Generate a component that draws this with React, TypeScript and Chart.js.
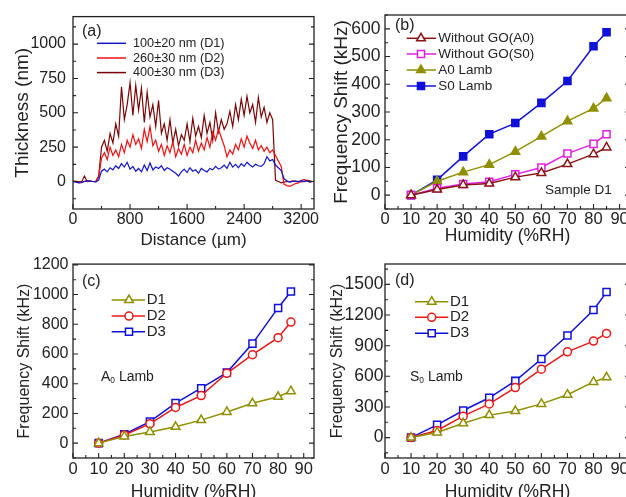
import React, { useEffect, useRef } from 'react';
import { Chart, registerables } from 'chart.js';
import { drawPoint } from 'chart.js/helpers';

Chart.register(...registerables);

const FONT = "'Liberation Sans', Arial, Helvetica, sans-serif";
const INK = '#222';

// ---------- Panel (a): thickness profiles ----------
const DISTANCE = [
  0, 40, 80, 120, 160, 200, 240, 280, 320, 360,
  400, 440, 480, 520, 560, 600, 640, 680, 720, 760,
  800, 840, 880, 920, 960, 1000, 1040, 1080, 1120, 1160,
  1200, 1240, 1280, 1320, 1360, 1400, 1440, 1480, 1520, 1560,
  1600, 1640, 1680, 1720, 1760, 1800, 1840, 1880, 1920, 1960,
  2000, 2040, 2080, 2120, 2160, 2200, 2240, 2280, 2320, 2360,
  2400, 2440, 2480, 2520, 2560, 2600, 2640, 2680, 2720, 2760,
  2800, 2840, 2880, 2920, 2960, 3000, 3040, 3080, 3120, 3160,
  3200, 3240, 3280, 3320, 3360,
];
const THICK_D1 = [
  0, -5, -10, -8, 2, 5, 3, 0, -2, 10,
  75, 90, 70, 100, 85, 115, 95, 130, 105, 140,
  90, 110, 75, 95, 70, 120, 80, 135, 85, 105,
  95, 115, 80, 100, 90, 75, 60, 40, 70, 90,
  65, 100, 75, 85, 60, 95, 80, 70, 95, 85,
  110, 90, 100, 120, 95, 140, 105, 125, 100, 130,
  110, 140, 120, 105, 125, 115, 110, 130, 180, 150,
  160, 120, 100, 80, 20, 5, -5, 0, 5, -3,
  8, 0, 5, -2, 0,
];
const THICK_D2 = [
  5, 0, -8, -5, 0, 5, 2, 0, -3, 30,
  170, 210, 160, 250, 190, 230, 180, 270, 210, 300,
  250, 340, 270, 310, 240, 380, 290, 400, 260, 300,
  220, 270, 190, 260, 210, 290, 180, 240, 200, 270,
  190, 250, 210, 300, 220, 280, 230, 320, 250, 360,
  300, 380, 320, 260, 180, 230, 200, 270, 230, 310,
  250, 330, 280, 240, 300, 230, 260, 220, 250, 210,
  230, 190, 150, 110, -20, -30, -35, -25, -15, -10,
  5, 15, 5, -5, 0,
];
const THICK_D3 = [
  0, 2, 0, -3, 40, 0, 3, 0, 2, 40,
  250, 300, 220, 350, 280, 420, 330, 690, 450, 560,
  720, 480, 700, 520, 680, 430, 650, 470, 560, 400,
  590, 350, 420, 300, 450, 280, 380, 260, 340, 300,
  420, 290, 460, 330, 400, 320, 480, 350, 430, 300,
  500, 360, 450, 380, 420, 510, 400, 560, 450, 600,
  480, 620, 500, 560, 430, 610, 470, 540, 430, 500,
  450, 10, 0, -10, -5, 0, -3, 5, 0, 2,
  -2, 0, 10, 5, 0,
];
const A_X_TICKS = [0, 800, 1600, 2400, 3200];
const A_Y_TICKS = [0, 250, 500, 750, 1000];
const A_LABELS = ['100±20 nm (D1)', '260±30 nm (D2)', '400±30 nm (D3)'];

// ---------- Panels (b)-(d): frequency shift vs humidity ----------
const HUMIDITY = [10, 20, 30, 40, 50, 60, 70, 80, 85];
const HUM_TICKS = [0, 10, 20, 30, 40, 50, 60, 70, 80, 90];

const B_NOGO_A0 = [0, 20, 37, 42, 65, 80, 112, 148, 172];
const B_NOGO_S0 = [0, 25, 40, 48, 75, 100, 150, 185, 220];
const B_A0_LAMB = [0, 50, 83, 110, 157, 212, 267, 313, 350];
const B_S0_LAMB = [0, 55, 140, 220, 260, 333, 412, 537, 588];
const B_Y_TICKS = [0, 100, 200, 300, 400, 500, 600];
const B_LABELS = ['Without GO(A0)', 'Without GO(S0)', 'A0 Lamb', 'S0 Lamb'];

const C_D1 = [0, 45, 75, 110, 155, 210, 268, 312, 350];
const C_D2 = [0, 55, 130, 240, 320, 470, 595, 710, 815];
const C_D3 = [0, 60, 145, 270, 370, 475, 670, 910, 1020];
const C_Y_TICKS = [0, 200, 400, 600, 800, 1000, 1200];

const D_D1 = [0, 50, 140, 220, 260, 330, 420, 545, 590];
const D_D2 = [0, 70, 210, 330, 490, 670, 840, 945, 1020];
const D_D3 = [0, 125, 265, 390, 555, 770, 1000, 1250, 1425];
const D_Y_TICKS = [0, 300, 600, 900, 1200, 1500];

const D_LABELS = ['D1', 'D2', 'D3'];

type Mk = { style: any; radius: number; filled: boolean; color: string };
type LegendSpec = {
  x1: number; x2: number; mx: number; tx: number; rows: number[]; size: number;
  items: { label: string; color: string; mk?: Mk }[];
};
type TextSpec = { text: string; sub?: string; rest?: string; dx: number; dy: number; size: number };

type Spec = {
  cx: number; cy: number; cw: number; ch: number;
  l: number; t: number; r: number; b: number;
  xMin: number; xMax: number; xTicks: number[]; xMinor: number;
  yMin: number; yMax: number; yTicks: number[]; yMinor: number;
  datasets: any[];
  xTitle: string; yTitle: string; xTitleSize: number; yTitleSize: number;
  xTickSize: number; yTickSize: number; yTitleCenter: number; xTitleCenter: number;
  yTickPad: number; xTickPad: number;
  legend: LegendSpec; texts: TextSpec[];
};

function lineSet(xs: number[], ys: number[], color: string, mk?: Mk, width = 1.5) {
  return {
    data: xs.map((x, i) => ({ x, y: ys[i] })),
    borderColor: color,
    backgroundColor: mk ? (mk.filled ? color : '#ffffff') : color,
    borderWidth: width,
    pointStyle: mk ? mk.style : false,
    pointRadius: mk ? mk.radius : 0,
    pointBorderWidth: 1.5,
    pointBorderColor: color,
    pointBackgroundColor: mk ? (mk.filled ? color : '#ffffff') : color,
    tension: 0,
    fill: false,
  };
}

const decor = {
  id: 'decor',
  afterDraw(chart: any, _a: any, opts: any) {
    const spec: Spec = opts.spec;
    const { ctx, chartArea } = chart;
    const { left, right, top, bottom } = chartArea;
    const xs = chart.scales.x;
    const ys = chart.scales.y;
    ctx.save();
    ctx.strokeStyle = INK;
    ctx.lineWidth = 1.3;
    ctx.strokeRect(left, top, right - left, bottom - top);
    ctx.lineWidth = 1.1;
    ctx.beginPath();
    const start = (min: number, step: number) => Math.ceil(min / step) * step;
    for (let v = start(spec.xMin, spec.xMinor); v <= spec.xMax + 1e-9; v += spec.xMinor) {
      const major = spec.xTicks.some((m) => Math.abs(m - v) < 1e-6);
      const p = xs.getPixelForValue(v);
      const len = major ? 5 : 3;
      ctx.moveTo(p, bottom);
      ctx.lineTo(p, bottom - len);
    }
    for (let v = start(spec.yMin, spec.yMinor); v <= spec.yMax + 1e-9; v += spec.yMinor) {
      const major = spec.yTicks.some((m) => Math.abs(m - v) < 1e-6);
      const p = ys.getPixelForValue(v);
      const len = major ? 5 : 3;
      ctx.moveTo(left, p);
      ctx.lineTo(left + len, p);
      ctx.moveTo(right, p);
      ctx.lineTo(right - len, p);
    }
    ctx.stroke();

    // legend
    const lg = spec.legend;
    lg.items.forEach((it, i) => {
      const y = top + lg.rows[i];
      ctx.strokeStyle = it.color;
      ctx.lineWidth = 1.5;
      ctx.beginPath();
      ctx.moveTo(left + lg.x1, y);
      ctx.lineTo(left + lg.x2, y);
      ctx.stroke();
      if (it.mk) {
        ctx.fillStyle = it.mk.filled ? it.color : '#ffffff';
        ctx.strokeStyle = it.color;
        ctx.lineWidth = 1.5;
        drawPoint(ctx, { pointStyle: it.mk.style, radius: it.mk.radius, rotation: 0, borderWidth: 1.5 } as any, left + lg.mx, y);
      }
      ctx.fillStyle = INK;
      ctx.font = `${lg.size}px ${FONT}`;
      ctx.textBaseline = 'middle';
      ctx.textAlign = 'left';
      ctx.fillText(it.label, left + lg.tx, y);
    });

    // free texts
    spec.texts.forEach((t) => {
      ctx.fillStyle = INK;
      ctx.textBaseline = 'middle';
      ctx.textAlign = 'left';
      ctx.font = `${t.size}px ${FONT}`;
      let x = left + t.dx;
      const y = top + t.dy;
      ctx.fillText(t.text, x, y);
      x += ctx.measureText(t.text).width;
      if (t.sub) {
        ctx.font = `${t.size * 0.6}px ${FONT}`;
        ctx.fillText(t.sub, x, y + t.size * 0.3);
        x += ctx.measureText(t.sub).width;
        ctx.font = `${t.size}px ${FONT}`;
      }
      if (t.rest) ctx.fillText(t.rest, x, y);
    });
    ctx.restore();
  },
};

function Panel({ spec }: { spec: Spec }) {
  const ref = useRef<HTMLCanvasElement>(null);
  useEffect(() => {
    if (!ref.current) return;
    const axisW = spec.l - spec.cx;
    const axisH = spec.ch - (spec.b - spec.cy);
    const yTitlePadTop = spec.yTitleCenter - spec.cx - spec.yTitleSize * 0.6;
    const xTitlePadBottom = spec.ch - (spec.xTitleCenter - spec.cy) - spec.xTitleSize * 0.6;
    const chart = new Chart(ref.current, {
      type: 'line',
      data: { datasets: spec.datasets },
      options: {
        responsive: false,
        animation: false,
        layout: { padding: { top: spec.t - spec.cy, right: spec.cw - (spec.r - spec.cx), left: 0, bottom: 0 } },
        plugins: { legend: { display: false }, tooltip: { enabled: false }, decor: { spec } } as any,
        scales: {
          x: {
            type: 'linear',
            min: spec.xMin,
            max: spec.xMax,
            afterBuildTicks: (s: any) => { s.ticks = spec.xTicks.map((v) => ({ value: v })); },
            afterFit: (s: any) => { s.height = axisH; },
            grid: { display: false, drawTicks: false, tickLength: 0 },
            border: { display: false },
            ticks: {
              autoSkip: false, maxRotation: 0, padding: spec.xTickPad, color: INK,
              font: { size: spec.xTickSize, family: FONT },
              callback: (v: any) => String(v),
            },
            title: {
              display: true, text: spec.xTitle, color: INK,
              font: { size: spec.xTitleSize, family: FONT, lineHeight: 1.2 },
              padding: { top: 0, bottom: xTitlePadBottom },
            },
          },
          y: {
            type: 'linear',
            min: spec.yMin,
            max: spec.yMax,
            afterBuildTicks: (s: any) => { s.ticks = spec.yTicks.map((v) => ({ value: v })); },
            afterFit: (s: any) => { s.width = axisW; },
            grid: { display: false, drawTicks: false, tickLength: 0 },
            border: { display: false },
            ticks: {
              autoSkip: false, padding: spec.yTickPad, color: INK,
              font: { size: spec.yTickSize, family: FONT },
              callback: (v: any) => String(v),
            },
            title: {
              display: true, text: spec.yTitle, color: INK,
              font: { size: spec.yTitleSize, family: FONT, lineHeight: 1.2 },
              padding: { top: yTitlePadTop, bottom: 0 },
            },
          },
        },
      } as any,
      plugins: [decor],
    });
    return () => chart.destroy();
  }, [spec]);
  return (
    <canvas
      ref={ref}
      width={spec.cw}
      height={spec.ch}
      style={{ position: 'absolute', left: spec.cx, top: spec.cy, width: spec.cw, height: spec.ch }}
    />
  );
}

const OLIVE = '#8f8f00';
const BLUE = '#1010d8';
const RED = '#e81818';
const DARKRED = '#8a1414';
const MAGENTA = '#e020e0';

const tri = (c: string, filled = false): Mk => ({ style: 'triangle', radius: 5, filled, color: c });
const sq = (c: string, filled = false): Mk => ({ style: 'rect', radius: 5, filled, color: c });
const circ = (c: string): Mk => ({ style: 'circle', radius: 4, filled: false, color: c });

const SPEC_A: Spec = {
  cx: 0, cy: 0, cw: 330, ch: 252,
  l: 73, t: 15, r: 314, b: 209,
  xMin: 0, xMax: 3380, xTicks: A_X_TICKS, xMinor: 400,
  yMin: -200, yMax: 1200, yTicks: A_Y_TICKS, yMinor: 125,
  datasets: [
    lineSet(DISTANCE, THICK_D1, '#1515cc', undefined, 1.2),
    lineSet(DISTANCE, THICK_D2, '#f01010', undefined, 1.2),
    lineSet(DISTANCE, THICK_D3, '#7a0606', undefined, 1.2),
  ],
  xTitle: 'Distance (µm)', yTitle: 'Thickness (nm)', xTitleSize: 17, yTitleSize: 19,
  xTickSize: 16, yTickSize: 16, yTitleCenter: 23, xTitleCenter: 240, yTickPad: 7, xTickPad: 1,
  legend: {
    x1: 24, x2: 53, mx: 38, tx: 60, rows: [26.7, 41.4, 56], size: 12.7,
    items: [
      { label: A_LABELS[0], color: '#1515cc' },
      { label: A_LABELS[1], color: '#f01010' },
      { label: A_LABELS[2], color: '#7a0606' },
    ],
  },
  texts: [{ text: '(a)', dx: 9, dy: 15, size: 16 }],
};

const SPEC_B: Spec = {
  cx: 315, cy: 0, cw: 330, ch: 252,
  l: 385, t: 15, r: 630, b: 209,
  xMin: 0, xMax: 94, xTicks: HUM_TICKS, xMinor: 5,
  yMin: -50, yMax: 650, yTicks: B_Y_TICKS, yMinor: 50,
  datasets: [
    lineSet(HUMIDITY, B_NOGO_A0, DARKRED, tri(DARKRED)),
    lineSet(HUMIDITY, B_NOGO_S0, MAGENTA, sq(MAGENTA)),
    lineSet(HUMIDITY, B_A0_LAMB, OLIVE, tri(OLIVE, true)),
    lineSet(HUMIDITY, B_S0_LAMB, BLUE, sq(BLUE, true)),
  ],
  xTitle: 'Humidity (%RH)', yTitle: 'Frequency Shift (kHz)', xTitleSize: 17.5, yTitleSize: 19,
  xTickSize: 16.5, yTickSize: 17.5, yTitleCenter: 341.7, xTitleCenter: 236, yTickPad: 4.5, xTickPad: 1,
  legend: {
    x1: 21.7, x2: 51, mx: 36, tx: 53.3, rows: [23.3, 39, 55, 71], size: 13.5,
    items: [
      { label: B_LABELS[0], color: DARKRED, mk: tri(DARKRED) },
      { label: B_LABELS[1], color: MAGENTA, mk: sq(MAGENTA) },
      { label: B_LABELS[2], color: OLIVE, mk: tri(OLIVE, true) },
      { label: B_LABELS[3], color: BLUE, mk: sq(BLUE, true) },
    ],
  },
  texts: [
    { text: '(b)', dx: 10, dy: 11, size: 16 },
    { text: 'Sample D1', dx: 160, dy: 175.7, size: 13.5 },
  ],
};

const SPEC_C: Spec = {
  cx: 0, cy: 250, cw: 330, ch: 260,
  l: 73, t: 264, r: 314, b: 458,
  xMin: 0, xMax: 94, xTicks: HUM_TICKS, xMinor: 5,
  yMin: -100, yMax: 1205, yTicks: C_Y_TICKS, yMinor: 100,
  datasets: [
    lineSet(HUMIDITY, C_D1, OLIVE, tri(OLIVE)),
    lineSet(HUMIDITY, C_D2, RED, circ(RED)),
    lineSet(HUMIDITY, C_D3, BLUE, sq(BLUE)),
  ],
  xTitle: 'Humidity (%RH)', yTitle: 'Frequency Shift (kHz)', xTitleSize: 17.5, yTitleSize: 16,
  xTickSize: 16.5, yTickSize: 16, yTitleCenter: 25, xTitleCenter: 492, yTickPad: 4.5, xTickPad: 2,
  legend: {
    x1: 38.7, x2: 72, mx: 56, tx: 73.7, rows: [36, 52, 67.7], size: 15,
    items: [
      { label: D_LABELS[0], color: OLIVE, mk: tri(OLIVE) },
      { label: D_LABELS[1], color: RED, mk: circ(RED) },
      { label: D_LABELS[2], color: BLUE, mk: sq(BLUE) },
    ],
  },
  texts: [
    { text: '(c)', dx: 9, dy: 17.7, size: 16 },
    { text: 'A', sub: '0', rest: ' Lamb', dx: 28, dy: 112.7, size: 14 },
  ],
};

const SPEC_D: Spec = {
  cx: 315, cy: 250, cw: 330, ch: 260,
  l: 385, t: 264, r: 630, b: 458,
  xMin: 0, xMax: 94, xTicks: HUM_TICKS, xMinor: 5,
  yMin: -200, yMax: 1700, yTicks: D_Y_TICKS, yMinor: 150,
  datasets: [
    lineSet(HUMIDITY, D_D1, OLIVE, tri(OLIVE)),
    lineSet(HUMIDITY, D_D2, RED, circ(RED)),
    lineSet(HUMIDITY, D_D3, BLUE, sq(BLUE)),
  ],
  xTitle: 'Humidity (%RH)', yTitle: 'Frequency Shift (kHz)', xTitleSize: 17.5, yTitleSize: 16,
  xTickSize: 16.5, yTickSize: 17.5, yTitleCenter: 338, xTitleCenter: 492, yTickPad: 1.5, xTickPad: 2,
  legend: {
    x1: 30, x2: 63.3, mx: 46.7, tx: 65, rows: [37.7, 53.3, 69.3], size: 15,
    items: [
      { label: D_LABELS[0], color: OLIVE, mk: tri(OLIVE) },
      { label: D_LABELS[1], color: RED, mk: circ(RED) },
      { label: D_LABELS[2], color: BLUE, mk: sq(BLUE) },
    ],
  },
  texts: [
    { text: '(d)', dx: 10, dy: 16.7, size: 16 },
    { text: 'S', sub: '0', rest: ' Lamb', dx: 25, dy: 112.7, size: 14 },
  ],
};

export default function App() {
  return (
    <div style={{ position: 'fixed', left: 0, top: 0, width: 626, height: 497, overflow: 'hidden', background: '#fff' }}>
      <Panel spec={SPEC_A} />
      <Panel spec={SPEC_B} />
      <Panel spec={SPEC_C} />
      <Panel spec={SPEC_D} />
    </div>
  );
}
